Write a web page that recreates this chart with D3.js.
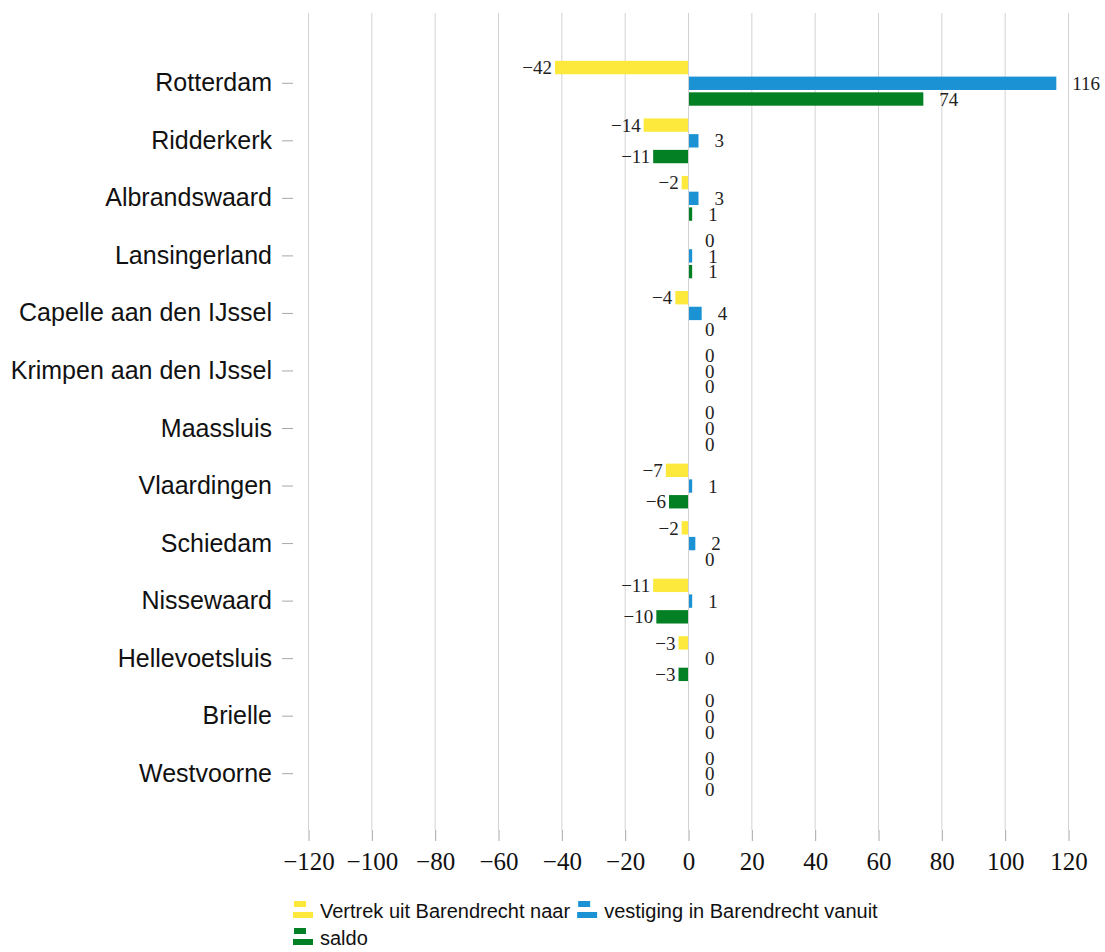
<!DOCTYPE html>
<html>
<head>
<meta charset="utf-8">
<script src="https://cdn.jsdelivr.net/npm/d3@7"></script>
<style>
    body { margin: 0; background: #fff; }
    .grid line { stroke: #d2d2d2; stroke-width: 1; }
    .x.axis line { stroke: #a8a8a8; }
    .y.axis line { stroke: #a8a8a8; }
    .x.axis text { font-family: "Liberation Serif", serif; font-size: 25px; fill: #111; }
    .y.axis text { font-family: "Liberation Sans", Arial, sans-serif; font-size: 25px; fill: #111; }
    .label { font-family: "Liberation Serif", serif; font-size: 19px; fill: #222; }
    .legend text { font-family: "Liberation Sans", Arial, sans-serif; font-size: 20px; fill: #111; }
</style>
</head>
<body>
<svg id="chart"></svg>
<script>
// data
const categories = ['Rotterdam', 'Ridderkerk', 'Albrandswaard', 'Lansingerland', 'Capelle aan den IJssel',
    'Krimpen aan den IJssel', 'Maassluis', 'Vlaardingen', 'Schiedam', 'Nissewaard', 'Hellevoetsluis',
    'Brielle', 'Westvoorne'];
const vertrek   = [-42, -14, -2, 0, -4, 0, 0, -7, -2, -11, -3, 0, 0];
const vestiging = [116, 3, 3, 1, 4, 0, 0, 1, 2, 1, 0, 0, 0];
const saldo     = [74, -11, 1, 1, 0, 0, 0, -6, 0, -10, -3, 0, 0];
const seriesNames = ['Vertrek uit Barendrecht naar', 'vestiging in Barendrecht vanuit', 'saldo'];
const seriesColors = ['#fde93c', '#1b92d4', '#037f24'];
const xTicks = [-120, -100, -80, -60, -40, -20, 0, 20, 40, 60, 80, 100, 120];

const graphicopt = {
    width: 1105, height: 952,
    plot: {left: 308, right: 1068, top: 13, bottom: 830}
};

const series = [vertrek, vestiging, saldo].map((vals, i) => ({
    key: i, name: seriesNames[i], color: seriesColors[i], values: vals
}));

const svg = d3.select('#chart')
    .attr('width', graphicopt.width)
    .attr('height', graphicopt.height);

const x = d3.scaleLinear()
    .domain([-120, 120])
    .range([graphicopt.plot.left, graphicopt.plot.right]);

// category bands sit a little lower than the grid
const y = d3.scaleBand()
    .domain(categories)
    .range([graphicopt.plot.top + 7, graphicopt.plot.bottom + 7])
    .paddingInner(0)
    .paddingOuter(0.6);

const yInner = d3.scaleBand()
    .domain(series.map(s => s.key))
    .range([-y.bandwidth() * 0.41, y.bandwidth() * 0.41])
    .paddingInner(0.15)
    .paddingOuter(0.075);

// vertical gridlines
svg.append('g').attr('class', 'grid')
    .selectAll('line')
    .data(xTicks)
    .enter().append('line')
    .attr('x1', d => x(d) + 0.5).attr('x2', d => x(d) + 0.5)
    .attr('y1', graphicopt.plot.top)
    .attr('y2', graphicopt.plot.bottom);

// x axis
const xAxis = svg.append('g')
    .attr('class', 'x axis')
    .attr('transform', `translate(0.5,${graphicopt.plot.bottom})`)
    .call(d3.axisBottom(x).tickValues(xTicks).tickSize(11).tickPadding(11));
xAxis.select('.domain').remove();

// y axis
const yAxis = svg.append('g')
    .attr('class', 'y axis')
    .attr('transform', `translate(293,0)`)
    .call(d3.axisLeft(y).tickSize(11).tickPadding(10));
yAxis.select('.domain').remove();

// bars
const groups = svg.append('g').attr('class', 'bars')
    .selectAll('.group')
    .data(categories)
    .enter().append('g')
    .attr('class', 'group')
    .attr('transform', d => `translate(0,${y(d) + y.bandwidth() / 2})`);

const cells = groups.selectAll('.cell')
    .data((c, ci) => series.map(s => ({key: s.key, color: s.color, value: s.values[ci]})))
    .enter().append('g')
    .attr('class', 'cell');

cells.append('rect')
    .attr('x', d => x(Math.min(0, d.value)) + (d.value > 0 ? 1 : 0))
    .attr('y', d => yInner(d.key))
    .attr('width', d => Math.abs(x(d.value) - x(0)))
    .attr('height', yInner.bandwidth())
    .style('fill', d => d.color);

cells.append('text')
    .attr('class', 'label')
    .attr('x', d => d.value < 0 ? x(d.value) - 3 : x(d.value) + 17)
    .attr('y', d => yInner(d.key) + yInner.bandwidth() / 2)
    .attr('dy', '0.35em')
    .style('text-anchor', d => d.value < 0 ? 'end' : 'start')
    .text(d => d3.format('d')(d.value));

// legend
const legend = svg.append('g').attr('class', 'legend');
const legendRows = [[0, 1], [2]];
legendRows.forEach((row, ri) => {
    let cx = 293;
    const baseY = 918 + ri * 27;
    row.forEach(si => {
        const s = series[si];
        const item = legend.append('g').attr('transform', `translate(${cx},${baseY})`);
        item.append('rect').attr('x', 1).attr('y', -17).attr('width', 12).attr('height', 6).style('fill', s.color);
        item.append('rect').attr('x', 0).attr('y', -6).attr('width', 20).attr('height', 6).style('fill', s.color);
        const t = item.append('text').attr('x', 27).attr('y', 0).text(s.name);
        cx += 27 + t.node().getComputedTextLength() + 7;
    });
});
</script>
</body>
</html>
